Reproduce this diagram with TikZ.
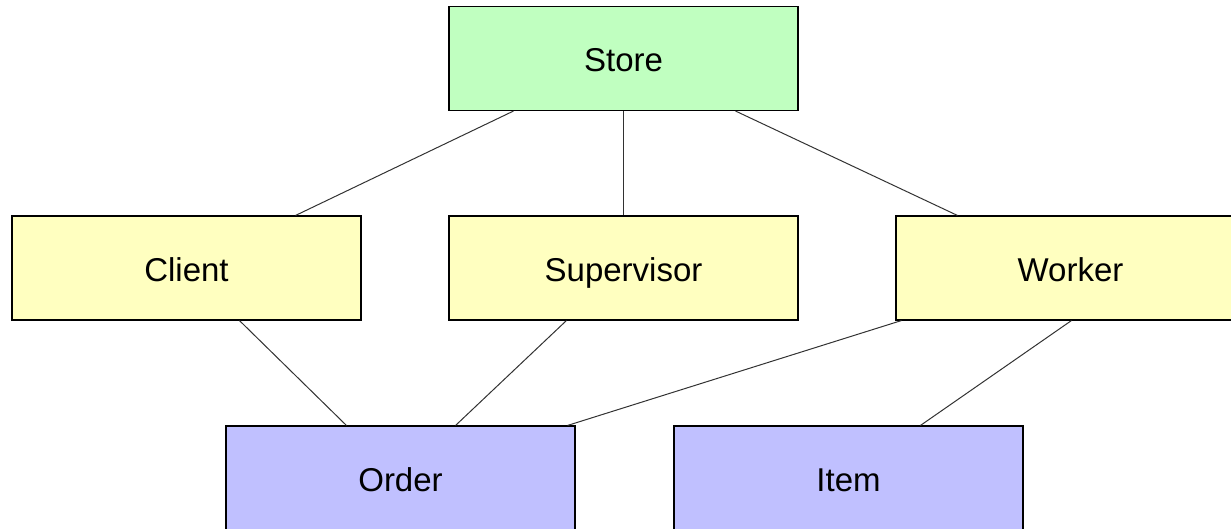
\documentclass[tikz,border=0pt]{standalone}
\usepackage{fontspec}
\setmainfont{Liberation Sans}
\definecolor{storegreen}{RGB}{192, 255, 192}
\definecolor{personyellow}{RGB}{255, 255, 192}
\definecolor{thingblue}{RGB}{192, 192, 255}
\definecolor{linkgray}{RGB}{50, 50, 50}
\usetikzlibrary{positioning}

\begin{document}
\begin{tikzpicture}[x=1pt,y=-1pt,
    entity/.style={draw=black,line width=1.1pt,minimum width=349pt,minimum height=104pt,
        inner sep=0pt,text height=30pt,text depth=4pt,font=\fontsize{33}{40}\selectfont},
    link/.style={draw=linkgray,line width=1pt}]
    \useasboundingbox (0,0) rectangle (1231,529);
    % entities
    \node[entity,fill=storegreen] (store) at (623.5,58.5) {Store};
    \node[entity,fill=personyellow] (client) at (186.5,268) {Client};
    \node[entity,fill=personyellow] (supervisor) at (623.5,268) {Supervisor};
    \node[entity,fill=personyellow] (worker) at (1070.5,268) {Worker};
    \node[entity,fill=thingblue] (order) at (400.5,478) {Order};
    \node[entity,fill=thingblue] (item) at (848.5,478) {Item};
    % relations
    \draw[link] ([xshift=65pt]store.south west) -- ([xshift=-66pt]client.north east);
    \draw[link] (store.south) -- (supervisor.north);
    \draw[link] ([xshift=-63pt]store.south east) -- ([xshift=62pt]worker.north west);
    \draw[link] ([xshift=228pt]client.south west) -- ([xshift=121pt]order.north west);
    \draw[link] ([xshift=118pt]supervisor.south west) -- ([xshift=-120pt]order.north east);
    \draw[link] ([xshift=6pt]worker.south west) -- ([xshift=-8pt]order.north east);
    \draw[link] ([xshift=176pt]worker.south west) -- ([xshift=247pt]item.north west);
\end{tikzpicture}
\end{document}
